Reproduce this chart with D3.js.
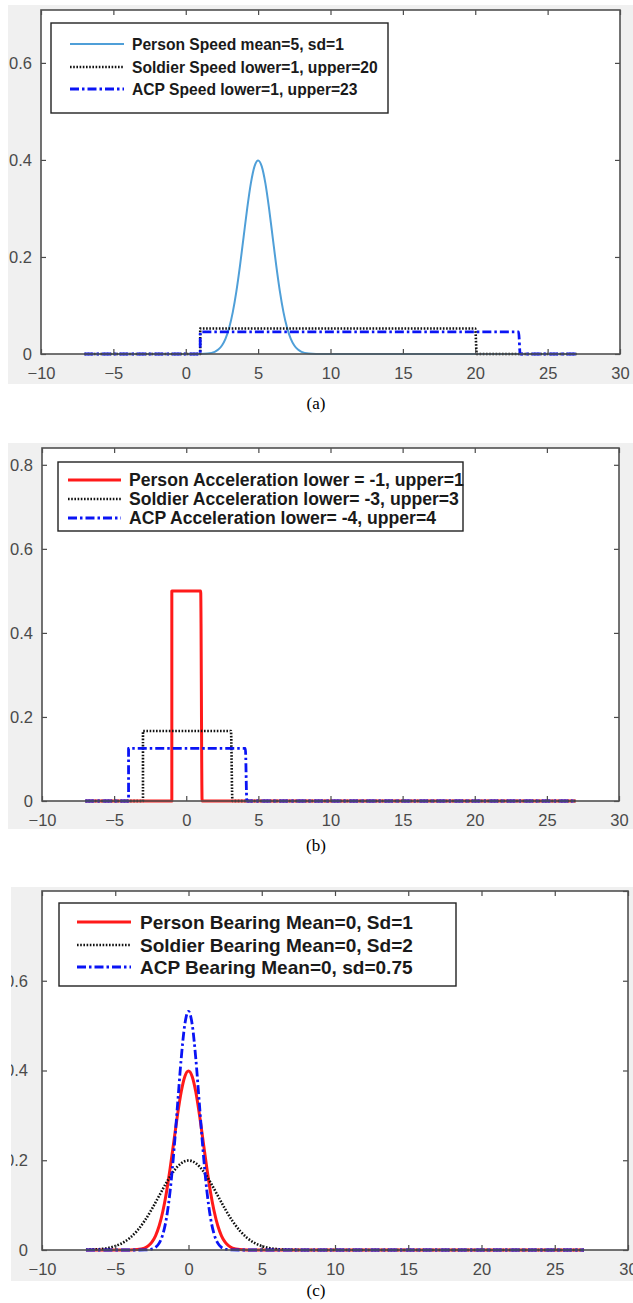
<!DOCTYPE html>
<html>
  <head>
    <meta charset="utf-8">
    <title>Distributions</title>
    <script src="https://d3js.org/d3.v7.min.js"></script>
    <style>
      body { margin: 0; background: #fff; }
      svg { display: block; }
    </style>
  </head>
  <body>
    <script>
    var W = 633, H = 1303;

    // shared tick values
    var xTicks = [-10, -5, 0, 5, 10, 15, 20, 25, 30];
    var yTicksA = [0, 0.2, 0.4, 0.6];
    var yTicksB = [0, 0.2, 0.4, 0.6, 0.8];
    var yTicksC = [0, 0.2, 0.4, 0.6, 0.8];

    // (a) speed
    var legendA = ["Person Speed mean=5, sd=1", "Soldier Speed lower=1, upper=20", "ACP Speed lower=1, upper=23"];
    var personSpeedX = [-7, 0, 1, 1.5, 2, 2.25, 2.5, 2.75, 3, 3.25, 3.5, 3.75, 4, 4.25, 4.5, 4.75, 5,
                        5.25, 5.5, 5.75, 6, 6.25, 6.5, 6.75, 7, 7.25, 7.5, 7.75, 8, 8.5, 9, 10, 27];
    var personSpeedY = [0, 0, 0.0001, 0.0009, 0.0044, 0.0091, 0.0175, 0.0317, 0.0540, 0.0863, 0.1295, 0.1826, 0.2420, 0.3011, 0.3521, 0.3867, 0.3989,
                        0.3867, 0.3521, 0.3011, 0.2420, 0.1826, 0.1295, 0.0863, 0.0540, 0.0317, 0.0175, 0.0091, 0.0044, 0.0009, 0.0001, 0, 0];
    var soldierSpeedX = [-7, 1, 1, 20, 20.1, 27];
    var soldierSpeedY = [0, 0, 0.0526, 0.0526, 0, 0];
    var acpSpeedX = [-7, 1, 1, 23, 23.1, 27];
    var acpSpeedY = [0, 0, 0.0455, 0.0455, 0, 0];

    // (b) acceleration
    var legendB = ["Person Acceleration lower = -1, upper=1", "Soldier Acceleration lower= -3, upper=3", "ACP Acceleration lower= -4, upper=4"];
    var personAccX = [-7, -1, -1, 1, 1.1, 27];
    var personAccY = [0, 0, 0.5, 0.5, 0, 0];
    var soldierAccX = [-7, -3, -3, 3.1, 3.2, 27];
    var soldierAccY = [0, 0, 0.1667, 0.1667, 0, 0];
    var acpAccX = [-7, -4, -4, 4.1, 4.2, 27];
    var acpAccY = [0, 0, 0.125, 0.125, 0, 0];

    // (c) bearing
    var legendC = ["Person Bearing Mean=0, Sd=1", "Soldier Bearing Mean=0, Sd=2", "ACP Bearing Mean=0, sd=0.75"];
    var personBearX = [-7, -5, -4, -3.5, -3, -2.75, -2.5, -2.25, -2, -1.75, -1.5, -1.25, -1, -0.75, -0.5, -0.25, 0,
                       0.25, 0.5, 0.75, 1, 1.25, 1.5, 1.75, 2, 2.25, 2.5, 2.75, 3, 3.5, 4, 5, 27];
    var personBearY = [0, 0, 0.0001, 0.0009, 0.0044, 0.0091, 0.0175, 0.0317, 0.0540, 0.0863, 0.1295, 0.1826, 0.2420, 0.3011, 0.3521, 0.3867, 0.3989,
                       0.3867, 0.3521, 0.3011, 0.2420, 0.1826, 0.1295, 0.0863, 0.0540, 0.0317, 0.0175, 0.0091, 0.0044, 0.0009, 0.0001, 0, 0];
    var soldierBearX = [-7, -6.5, -6, -5.5, -5, -4.5, -4, -3.5, -3, -2.5, -2, -1.5, -1, -0.5, 0,
                        0.5, 1, 1.5, 2, 2.5, 3, 3.5, 4, 4.5, 5, 5.5, 6, 6.5, 7, 8, 27];
    var soldierBearY = [0.0004, 0.0010, 0.0022, 0.0045, 0.0088, 0.0159, 0.0270, 0.0431, 0.0648, 0.0913, 0.1210, 0.1506, 0.1760, 0.1933, 0.1995,
                        0.1933, 0.1760, 0.1506, 0.1210, 0.0913, 0.0648, 0.0431, 0.0270, 0.0159, 0.0088, 0.0045, 0.0022, 0.0010, 0.0004, 0.0001, 0];
    var acpBearX = [-7, -4, -3.5, -3, -2.75, -2.5, -2.25, -2, -1.75, -1.5, -1.25, -1, -0.75, -0.5, -0.25, 0,
                    0.25, 0.5, 0.75, 1, 1.25, 1.5, 1.75, 2, 2.25, 2.5, 2.75, 3, 3.5, 4, 27];
    var acpBearY = [0, 0, 0.00001, 0.0002, 0.0006, 0.0021, 0.0059, 0.0152, 0.0350, 0.0720, 0.1327, 0.2187, 0.3227, 0.4259, 0.5032, 0.5319,
                    0.5032, 0.4259, 0.3227, 0.2187, 0.1327, 0.0720, 0.0350, 0.0152, 0.0059, 0.0021, 0.0006, 0.0002, 0.00001, 0, 0];

    var lightBlue = "#4f9fd8", blue = "#0a14f5", red = "#ff1a1a", black = "#111";
    var styles = {
      solidLight: { color: lightBlue, width: 2, dash: null },
      solidRed: { color: red, width: 3, dash: null },
      dotted: { color: black, width: 2.6, dash: "1.6,1.6" },
      dashdot: { color: blue, width: 2.8, dash: "9,3,2.5,3" }
    };

    function zip(xs, ys) { return xs.map(function(x, i){ return [x, ys[i]]; }); }
    function yFmt(d) { return d === 0 ? "0" : d3.format(".1f")(d); }

    var panels = [
      { bg: [8, 5, 633, 384], box: [41, 10, 620, 354], yMax: 0.709, yTicks: yTicksA, yPad: 9, labelTop: 5,
        legend: { box: [51, 23, 388, 113], rows: [44, 67, 89], line: [70, 124], textX: 132, fit: 246, labels: legendA },
        series: [ { pts: zip(personSpeedX, personSpeedY), st: styles.solidLight },
                  { pts: zip(soldierSpeedX, soldierSpeedY), st: styles.dotted },
                  { pts: zip(acpSpeedX, acpSpeedY), st: styles.dashdot } ],
        caption: "(a)", capY: 409 },
      { bg: [8, 443, 633, 829], box: [42, 448, 619, 801], yMax: 0.84, yTicks: yTicksB, yPad: 9, labelTop: 443,
        legend: { box: [58, 462, 463, 531], rows: [480, 499, 518], line: [68, 121], textX: 129, fit: 330, labels: legendB },
        series: [ { pts: zip(personAccX, personAccY), st: styles.solidRed },
                  { pts: zip(soldierAccX, soldierAccY), st: styles.dotted },
                  { pts: zip(acpAccX, acpAccY), st: styles.dashdot } ],
        caption: "(b)", capY: 851 },
      { bg: [11, 887, 633, 1281], box: [42, 891, 628, 1250], yMax: 0.8, yTicks: yTicksC, yPad: 14, labelTop: 897,
        legend: { box: [59, 903, 456, 986], rows: [922, 945, 967], line: [77, 131], textX: 140, fit: 273, labels: legendC },
        series: [ { pts: zip(personBearX, personBearY), st: styles.solidRed },
                  { pts: zip(soldierBearX, soldierBearY), st: styles.dotted },
                  { pts: zip(acpBearX, acpBearY), st: styles.dashdot } ],
        caption: "(c)", capY: 1296 }
    ];

    var svg = d3.select("body").append("svg").attr("width", W).attr("height", H);

    panels.forEach(function(p, pi){
      // each panel is a cropped screenshot: clip everything to its grey area
      var clipId = "clip" + pi, lclipId = "lclip" + pi;
      svg.append("clipPath").attr("id", clipId).append("rect")
        .attr("x", p.bg[0]).attr("y", p.bg[1]).attr("width", p.bg[2] - p.bg[0]).attr("height", p.bg[3] - p.bg[1]);
      svg.append("clipPath").attr("id", lclipId).append("rect")
        .attr("x", p.bg[0]).attr("y", p.labelTop).attr("width", p.bg[2] - p.bg[0]).attr("height", p.bg[3] - p.labelTop);

      var g = svg.append("g").attr("clip-path", "url(#" + clipId + ")");

      g.append("rect").attr("x", p.bg[0]).attr("y", p.bg[1])
        .attr("width", p.bg[2] - p.bg[0]).attr("height", p.bg[3] - p.bg[1]).attr("fill", "#f0f0f0");

      var x = d3.scaleLinear().domain([-10, 30]).range([p.box[0], p.box[2]]);
      var y = d3.scaleLinear().domain([0, p.yMax]).range([p.box[3], p.box[1]]);

      g.append("rect").attr("x", p.box[0]).attr("y", p.box[1])
        .attr("width", p.box[2] - p.box[0]).attr("height", p.box[3] - p.box[1]).attr("fill", "#fff");

      // lines
      var line = d3.line().x(function(d){ return x(d[0]); }).y(function(d){ return y(d[1]); })
        .curve(d3.curveMonotoneX);
      p.series.forEach(function(s){
        g.append("path").datum(s.pts).attr("d", line)
          .attr("fill", "none").attr("stroke", s.st.color).attr("stroke-width", s.st.width)
          .attr("stroke-dasharray", s.st.dash).attr("stroke-linejoin", "round");
      });

      // axes (MATLAB style box, ticks inward)
      var tickCol = "#4a4a4a";
      var xb = d3.axisBottom(x).tickValues(xTicks).tickSizeInner(-5).tickSizeOuter(0).tickPadding(13);
      var xt = d3.axisTop(x).tickValues(xTicks).tickSizeInner(-5).tickSizeOuter(0).tickFormat("");
      var yl = d3.axisLeft(y).tickValues(p.yTicks).tickSizeInner(-5).tickSizeOuter(0).tickPadding(p.yPad).tickFormat(yFmt);
      var yr = d3.axisRight(y).tickValues(p.yTicks).tickSizeInner(-5).tickSizeOuter(0).tickFormat("");

      [ [xb, "translate(0," + p.box[3] + ")"], [xt, "translate(0," + p.box[1] + ")"],
        [yl, "translate(" + p.box[0] + ",0)"], [yr, "translate(" + p.box[2] + ",0)"] ].forEach(function(a, ai){
        // the left labels may be cut at the top of the crop
        var holder = ai === 2 ? g.append("g").attr("clip-path", "url(#" + lclipId + ")") : g;
        var ag = holder.append("g").attr("transform", a[1]).call(a[0]);
        ag.select(".domain").remove();
        ag.selectAll("line").attr("stroke", tickCol).attr("stroke-width", 1.2);
        ag.selectAll("text").attr("fill", "#4a4a4a").style("font-family", "'Liberation Sans', Arial, sans-serif")
          .style("font-size", "16.5px");
      });

      g.append("rect").attr("x", p.box[0]).attr("y", p.box[1])
        .attr("width", p.box[2] - p.box[0]).attr("height", p.box[3] - p.box[1])
        .attr("fill", "none").attr("stroke", "#505050").attr("stroke-width", 1.6);

      // legend
      var L = p.legend;
      g.append("rect").attr("x", L.box[0]).attr("y", L.box[1])
        .attr("width", L.box[2] - L.box[0]).attr("height", L.box[3] - L.box[1])
        .attr("fill", "#fff").attr("stroke", "#222").attr("stroke-width", 1.4);
      var texts = L.labels.map(function(lab, i){
        var s = p.series[i].st;
        g.append("line").attr("x1", L.line[0]).attr("x2", L.line[1]).attr("y1", L.rows[i]).attr("y2", L.rows[i])
          .attr("stroke", s.color).attr("stroke-width", s.width).attr("stroke-dasharray", s.dash);
        return g.append("text").attr("x", L.textX).attr("y", L.rows[i]).attr("dy", "0.36em")
          .style("font-family", "'Liberation Sans', Arial, sans-serif").style("font-weight", "bold")
          .style("font-size", "14px").attr("fill", "#1a1a1a").text(lab);
      });
      var w = texts[1].node().getComputedTextLength();
      var fs = 14 * L.fit / w;
      texts.forEach(function(t){ t.style("font-size", fs.toFixed(2) + "px"); });

      svg.append("text").attr("x", 316).attr("y", p.capY).attr("text-anchor", "middle")
        .style("font-family", "'Liberation Serif', 'Times New Roman', serif").style("font-size", "17px")
        .attr("fill", "#000").text(p.caption);
    });
    </script>
  </body>
</html>
